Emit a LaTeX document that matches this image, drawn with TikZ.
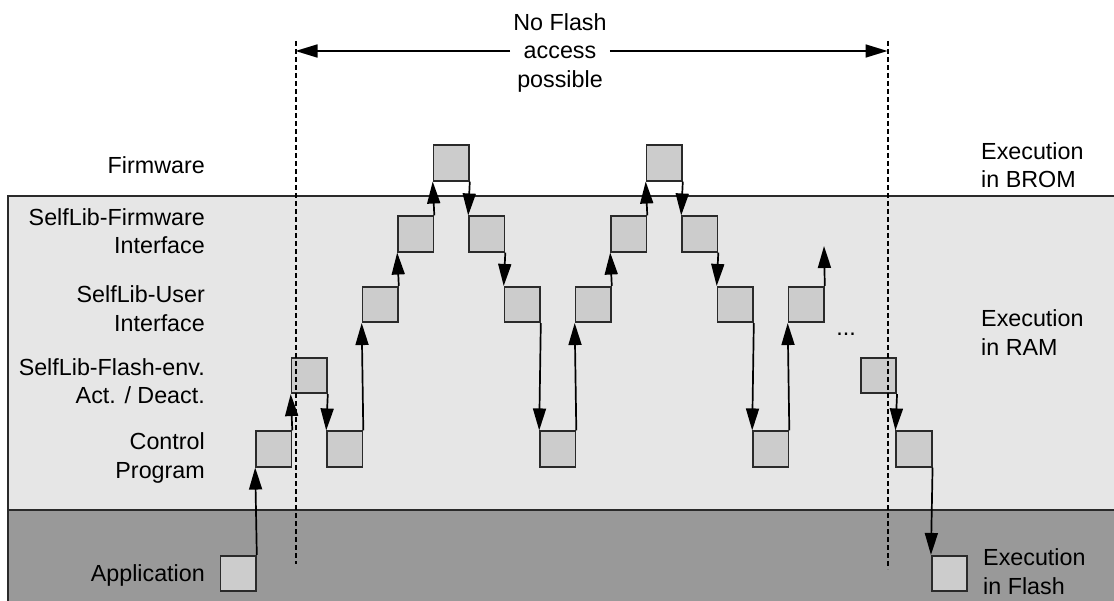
\documentclass[tikz,border=0pt]{standalone}
\usepackage{fontspec}
\setmainfont{Liberation Sans}
\usetikzlibrary{arrows.meta}
\definecolor{ramgray}{HTML}{E6E6E6}
\definecolor{flashgray}{HTML}{999999}
\definecolor{boxgray}{HTML}{CCCCCC}
\definecolor{edgegray}{HTML}{2A2A2A}

\begin{document}
\begin{tikzpicture}
          [x=1pt,y=-1pt,
           blk/.style={draw=edgegray,fill=boxgray,line width=1.6pt,minimum size=35.5pt,inner sep=0pt},
           lbl/.style={font=\fontsize{23.3}{28.5}\selectfont,inner sep=0pt},
           flow/.style={line width=1.7pt,-{Triangle[length=22pt,width=13pt]}},
           limit/.style={line width=2pt,dash pattern=on 5pt off 3pt}]
          \useasboundingbox (0,0) rectangle (1114,601);
          \clip (0,0) rectangle (1114,601);

          % memory areas
          \fill[ramgray] (8,196) rectangle (1120,510);
          \fill[flashgray] (8,510) rectangle (1120,610);
          \draw[edgegray,line width=1.5pt] (1120,196) -- (8,196) -- (8,610);
          \draw[edgegray,line width=1.5pt] (8,510) -- (1120,510);

          % call sequence
          \node[blk] (b0) at (238.25,573.5) {};
          \node[blk] (b1) at (273.75,449) {};
          \node[blk] (b2) at (309.25,375.5) {};
          \node[blk] (b3) at (344.75,449) {};
          \node[blk] (b4) at (380.25,304.5) {};
          \node[blk] (b5) at (415.75,234) {};
          \node[blk] (b6) at (451.25,163) {};
          \node[blk] (b7) at (486.75,234) {};
          \node[blk] (b8) at (522.25,304.5) {};
          \node[blk] (b9) at (557.75,449) {};
          \node[blk] (b10) at (593.25,304.5) {};
          \node[blk] (b11) at (628.75,234) {};
          \node[blk] (b12) at (664.25,163) {};
          \node[blk] (b13) at (699.75,234) {};
          \node[blk] (b14) at (735.25,304.5) {};
          \node[blk] (b15) at (770.75,449) {};
          \node[blk] (b16) at (806.25,304.5) {};
          \node[blk] (b18) at (878.5,375.5) {};
          \node[blk] (b19) at (914,449) {};
          \node[blk] (b20) at (949.5,573.5) {};
          \coordinate (more) at (824,246);

          \foreach \from/\to in {b0/b1,b1/b2,b3/b4,b4/b5,b5/b6,b9/b10,b10/b11,b11/b12,b15/b16}
            \draw[flow] (\from.north east) -- (\to.south west);
          \foreach \from/\to in {b2/b3,b6/b7,b7/b8,b8/b9,b12/b13,b13/b14,b14/b15,b18/b19,b19/b20}
            \draw[flow] (\from.south east) -- (\to.north west);
          \draw[flow] (b16.north east) -- (more);
          \node[lbl] (dots) at (846,334) {...};

          % no flash window
          \coordinate (lim1) at (295.5,41);
          \coordinate (lim2) at (887.5,41);
          \coordinate (lim1b) at (295.5,564);
          \coordinate (lim2b) at (887.5,569);
          \draw[limit] (lim1) -- (lim1b);
          \draw[limit] (lim2) -- (lim2b);
          \node[lbl,align=center,inner xsep=3pt] (nf) at (560,52.5) {No Flash\\access\\possible};
          \coordinate (arl) at (295.5,51);
          \coordinate (arr) at (887.5,51);
          \draw[flow] (nf.west |- arl) -- (arl);
          \draw[flow] (nf.east |- arr) -- (arr);

          % layers
          \node[lbl,anchor=east,align=right] (fw) at (205,165) {Firmware};
          \node[lbl,anchor=east,align=right] (sfi) at (205,231) {SelfLib-Firmware\\Interface};
          \node[lbl,anchor=east,align=right] (sui) at (205,308.5) {SelfLib-User\\Interface};
          \node[lbl,anchor=east,align=right] (sfe) at (205,381) {SelfLib-Flash-env.\\Act. / Deact.};
          \node[lbl,anchor=east,align=right] (cp) at (205,458) {Control\\Program};
          \node[lbl,anchor=east,align=right] (app) at (205,575) {Application};

          \node[lbl,anchor=west,align=left] (brom) at (981,165) {Execution\\in BROM};
          \node[lbl,anchor=west,align=left] (ram) at (981,332.5) {Execution\\in RAM};
          \node[lbl,anchor=west,align=left] (flash) at (983,571.5) {Execution\\in Flash};

        \end{tikzpicture}
\end{document}
